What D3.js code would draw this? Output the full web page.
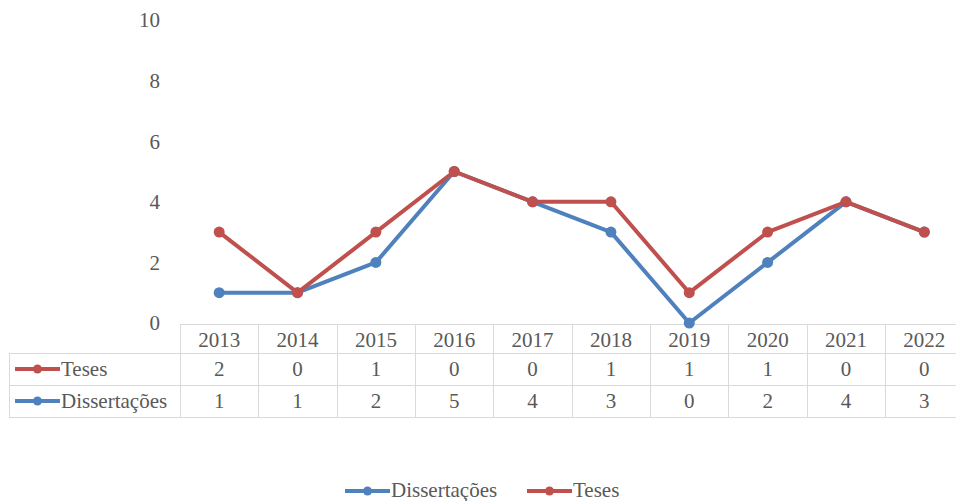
<!DOCTYPE html>
<html><head><meta charset="utf-8">
<script src="https://cdn.jsdelivr.net/npm/d3@7"></script>
<style>body{margin:0;background:#fff}svg{display:block}</style>
</head><body><svg id="c" width="956" height="501"></svg>
<script>
const years = ["2013","2014","2015","2016","2017","2018","2019","2020","2021","2022"];
const teses = [2,0,1,0,0,1,1,1,0,0];
const dissertacoes = [1,1,2,5,4,3,0,2,4,3];
const yTicks = [0,2,4,6,8,10];
const seriesNames = ["Teses","Dissertações"];
const colors = {"Teses":"#C0504D","Dissertações":"#4F81BD"};

const svg = d3.select("#c");
const fs = 21, tc = "#595959";
const x0 = 180, colW = 78.35;
const x = d3.scaleBand().domain(years).range([x0, x0 + colW*years.length]).padding(0);
const y = d3.scaleLinear().domain([0,10]).range([323,20]);

const stackedTeses = teses.map((v,i)=>v+dissertacoes[i]);

function txt(sel){ return sel.attr("font-size",fs).attr("fill",tc).style("font-family",'"Liberation Serif"'); }

svg.append("g").selectAll("text").data(yTicks).join("text")
  .attr("x",160).attr("y",d=>y(d)).attr("dy","0.35em").attr("text-anchor","end")
  .call(txt).text(d=>d);

const rowTop = [324,353,385,417];
const grid = "#d9d9d9";
const tbl = svg.append("g");
const xr = x0 + colW*years.length;
tbl.append("line").attr("x1",x0).attr("x2",xr).attr("y1",rowTop[0]+0.5).attr("y2",rowTop[0]+0.5).attr("stroke",grid);
[1,2,3].forEach(i=>tbl.append("line").attr("x1",9).attr("x2",xr).attr("y1",rowTop[i]+0.5).attr("y2",rowTop[i]+0.5).attr("stroke",grid));
tbl.append("line").attr("x1",9.5).attr("x2",9.5).attr("y1",rowTop[1]).attr("y2",rowTop[3]).attr("stroke",grid);
years.forEach(yr=>{
  tbl.append("line").attr("x1",Math.round(x(yr))+0.5).attr("x2",Math.round(x(yr))+0.5).attr("y1",rowTop[0]).attr("y2",rowTop[3]).attr("stroke",grid);
});

const cx = d=>x(d)+x.bandwidth()/2;
tbl.selectAll(".yr").data(years).join("text").attr("x",cx).attr("y",(rowTop[0]+rowTop[1])/2+1).attr("dy","0.35em")
  .attr("text-anchor","middle").call(txt).text(d=>d);
const rows = [teses, dissertacoes];
rows.forEach((vals,r)=>{
  const ym = (rowTop[r+1]+rowTop[r+2])/2;
  tbl.append("g").selectAll("text").data(vals).join("text").attr("x",(d,i)=>cx(years[i])).attr("y",ym).attr("dy","0.35em")
    .attr("text-anchor","middle").call(txt).text(d=>d);
  const col = colors[seriesNames[r]];
  tbl.append("line").attr("x1",15).attr("x2",60).attr("y1",ym).attr("y2",ym).attr("stroke",col).attr("stroke-width",4);
  tbl.append("circle").attr("cx",37.5).attr("cy",ym).attr("r",4.5).attr("fill",col);
  tbl.append("text").attr("x",61).attr("y",ym).attr("dy","0.35em").call(txt).text(seriesNames[r]);
});

const line = d3.line().x((d,i)=>cx(years[i])).y(d=>y(d));
function drawSeries(vals,col){
  svg.append("path").datum(vals).attr("d",line).attr("fill","none").attr("stroke",col).attr("stroke-width",4).attr("stroke-linejoin","round");
  svg.append("g").selectAll("circle").data(vals).join("circle").attr("cx",(d,i)=>cx(years[i])).attr("cy",d=>y(d)).attr("r",5.5).attr("fill",col);
}
drawSeries(dissertacoes, colors["Dissertações"]);
drawSeries(stackedTeses, colors["Teses"]);

const ly = 491;
const leg = [{n:"Dissertações",x:345},{n:"Teses",x:527}];
leg.forEach(l=>{
  const col = colors[l.n];
  svg.append("line").attr("x1",l.x).attr("x2",l.x+45).attr("y1",ly).attr("y2",ly).attr("stroke",col).attr("stroke-width",4);
  svg.append("circle").attr("cx",l.x+22.5).attr("cy",ly).attr("r",4.5).attr("fill",col);
  svg.append("text").attr("x",l.x+46).attr("y",ly-1).attr("dy","0.35em").call(txt).text(l.n);
});
</script></body></html>
